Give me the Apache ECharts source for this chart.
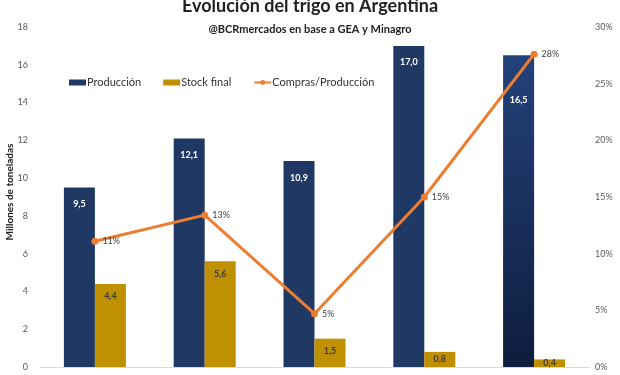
<!DOCTYPE html>
<html>
<head>
<meta charset="utf-8">
<script src="https://cdn.jsdelivr.net/npm/echarts@6/dist/echarts.min.js"></script>
<style>html,body{margin:0;padding:0;background:#fff}#c{width:620px;height:375px}</style>
</head>
<body>
<div id="c"></div>
<script>
const categories = ["2012/13", "2013/14", "2014/15", "2015/16", "2016/17"];
const produccion = [9.5, 12.1, 10.9, 17.0, 16.5];
const stockFinal = [4.4, 5.6, 1.5, 0.8, 0.4];
const comprasProduccion = [11.1, 13.4, 4.7, 15.0, 27.6];
const leftTicks = [0, 2, 4, 6, 8, 10, 12, 14, 16, 18];
const rightTicks = [0, 5, 10, 15, 20, 25, 30];

const chart = echarts.init(document.getElementById('c'), null, {renderer: 'canvas'});
const font = 'Lato, "Noto Sans", sans-serif';
const fmt1 = v => v.toFixed(1).replace('.', ',');
const navy = '#1f3864';
const lastIdx = produccion.length - 1;
chart.setOption({
  animation: false,
  textStyle: {fontFamily: font},
  title: [{
    text: 'Evolución del trigo en Argentina',
    left: 'center', top: -8,
    textStyle: {fontSize: 18, fontWeight: 'bold', color: '#222', fontFamily: font}
  }, {
    text: '@BCRmercados en base a GEA y Minagro',
    left: 'center', top: 19,
    textStyle: {fontSize: 11, fontWeight: 'bold', color: '#222', fontFamily: font}
  }],
  graphic: [{
    type: 'text', x: 10, y: 192, rotation: Math.PI / 2,
    style: {text: 'Millones de toneladas', fill: '#222', font: 'bold 10px ' + font, align: 'center', verticalAlign: 'middle'}
  }],
  legend: {
    left: 64, top: 72, itemWidth: 17, itemHeight: 6, itemGap: 22,
    textStyle: {fontSize: 11, color: '#333', padding: [0, 0, 0, -4]},
    data: [
      {name: 'Producción', icon: 'rect', itemStyle: {color: navy}},
      {name: 'Stock final', icon: 'rect'},
      {name: 'Compras/Producción'}
    ]
  },
  grid: {left: 40, right: 31, top: 27, bottom: 8, outerBoundsMode: 'none', containLabel: false},
  xAxis: {
    type: 'category', data: categories,
    axisLine: {lineStyle: {color: '#d9d9d9'}},
    axisTick: {show: false}, axisLabel: {show: false}
  },
  yAxis: [{
    type: 'value', min: leftTicks[0], max: leftTicks[leftTicks.length - 1], interval: 2,
    splitLine: {show: false}, axisLine: {show: false}, axisTick: {show: false},
    axisLabel: {fontSize: 9, color: '#595959', margin: 12}
  }, {
    type: 'value', min: rightTicks[0], max: rightTicks[rightTicks.length - 1], interval: 5,
    splitLine: {show: false}, axisLine: {show: false}, axisTick: {show: false},
    axisLabel: {fontSize: 9, color: '#595959', margin: 6, formatter: v => v + '%'}
  }],
  series: [{
    name: 'Producción', type: 'bar',
    data: produccion.map((v, i) => i === lastIdx ? {value: v, label: {distance: 40}} : v),
    barWidth: 31, barGap: '0%',
    itemStyle: {color: p => p.dataIndex === lastIdx ?
      new echarts.graphic.LinearGradient(0, 0, 0, 1, [{offset: 0, color: '#23427a'}, {offset: 1, color: '#0e1d3d'}]) : navy},
    label: {show: true, position: 'insideTop', distance: 12, color: '#fff', fontSize: 9, fontWeight: 'bold', formatter: p => fmt1(p.value)}
  }, {
    name: 'Stock final', type: 'bar',
    data: stockFinal.map(v => v < 1 ? {value: v, label: {position: 'inside'}} : v),
    barWidth: 31,
    itemStyle: {color: '#bf9000'},
    label: {show: true, position: 'insideTop', distance: 8, color: '#3a3a3a', fontSize: 9, fontWeight: 'bold', formatter: p => fmt1(p.value)}
  }, {
    name: 'Compras/Producción', type: 'line', yAxisIndex: 1, data: comprasProduccion,
    symbol: 'circle', symbolSize: 7,
    lineStyle: {color: '#ed7d31', width: 3},
    itemStyle: {color: '#ed7d31'},
    label: {show: true, position: 'right', distance: 4, color: '#404040', fontSize: 9, formatter: p => Math.round(p.value) + '%'},
    z: 5
  }]
});
</script>
</body>
</html>
